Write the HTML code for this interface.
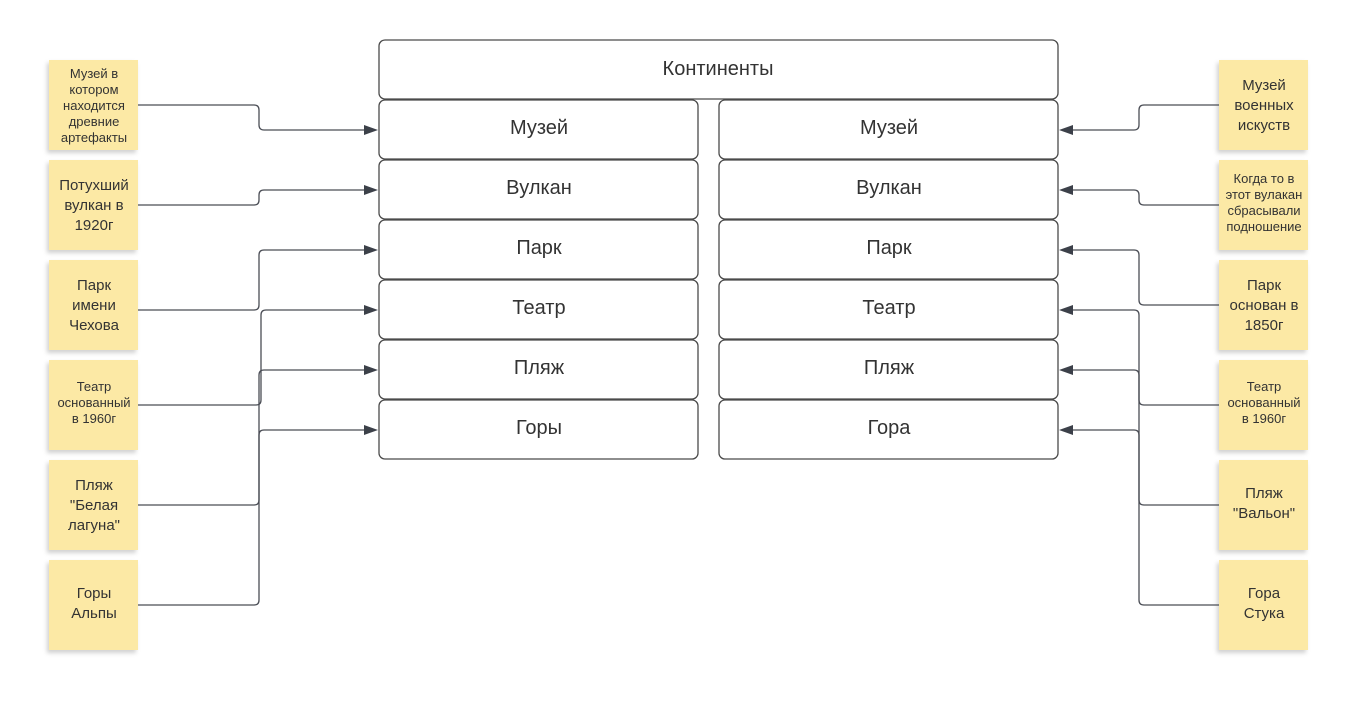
<!DOCTYPE html>
<html><head><meta charset="utf-8"><style>
body{margin:0;background:#fff;}
svg{display:block;font-family:"Liberation Sans",sans-serif;}
.b{fill:#fff;stroke:#4a4a4a;stroke-width:1.3}
.n{fill:#fce9a5}
.bt{font-size:20px;fill:#333;text-anchor:middle}
.s{font-size:15px;fill:#333;text-anchor:middle}
.ss{font-size:13px;fill:#333;text-anchor:middle}
.c{fill:none;stroke:#4a4d55;stroke-width:1.3}
.a{fill:#3c4049}
</style></head><body>
<svg width="1359" height="701" viewBox="0 0 1359 701">
<defs><filter id="sh" x="-20%" y="-20%" width="140%" height="140%"><feDropShadow dx="-2" dy="3" stdDeviation="2" flood-color="#000" flood-opacity="0.18"/></filter></defs>
<rect class="b" x="379" y="40" width="679" height="59" rx="6"/>
<text class="bt" x="718" y="75">Континенты</text>
<g>
<rect class="b" x="379" y="100" width="319" height="59" rx="6"/>
<rect class="b" x="379" y="160" width="319" height="59" rx="6"/>
<rect class="b" x="379" y="220" width="319" height="59" rx="6"/>
<rect class="b" x="379" y="280" width="319" height="59" rx="6"/>
<rect class="b" x="379" y="340" width="319" height="59" rx="6"/>
<rect class="b" x="379" y="400" width="319" height="59" rx="6"/>
<rect class="b" x="719" y="100" width="339" height="59" rx="6"/>
<rect class="b" x="719" y="160" width="339" height="59" rx="6"/>
<rect class="b" x="719" y="220" width="339" height="59" rx="6"/>
<rect class="b" x="719" y="280" width="339" height="59" rx="6"/>
<rect class="b" x="719" y="340" width="339" height="59" rx="6"/>
<rect class="b" x="719" y="400" width="339" height="59" rx="6"/>
</g>
<text class="bt" x="539" y="134">Музей</text>
<text class="bt" x="539" y="194">Вулкан</text>
<text class="bt" x="539" y="254">Парк</text>
<text class="bt" x="539" y="314">Театр</text>
<text class="bt" x="539" y="374">Пляж</text>
<text class="bt" x="539" y="434">Горы</text>
<text class="bt" x="889" y="134">Музей</text>
<text class="bt" x="889" y="194">Вулкан</text>
<text class="bt" x="889" y="254">Парк</text>
<text class="bt" x="889" y="314">Театр</text>
<text class="bt" x="889" y="374">Пляж</text>
<text class="bt" x="889" y="434">Гора</text>

<g filter="url(#sh)">
<rect class="n" x="49" y="60" width="89" height="90"/>
<rect class="n" x="49" y="160" width="89" height="90"/>
<rect class="n" x="49" y="260" width="89" height="90"/>
<rect class="n" x="49" y="360" width="89" height="90"/>
<rect class="n" x="49" y="460" width="89" height="90"/>
<rect class="n" x="49" y="560" width="89" height="90"/>
<rect class="n" x="1219" y="60" width="89" height="90"/>
<rect class="n" x="1219" y="160" width="89" height="90"/>
<rect class="n" x="1219" y="260" width="89" height="90"/>
<rect class="n" x="1219" y="360" width="89" height="90"/>
<rect class="n" x="1219" y="460" width="89" height="90"/>
<rect class="n" x="1219" y="560" width="89" height="90"/>
</g>
<text class="ss"><tspan x="94" y="78">Музей в</tspan><tspan x="94" y="94">котором</tspan><tspan x="94" y="110">находится</tspan><tspan x="94" y="126">древние</tspan><tspan x="94" y="142">артефакты</tspan></text>
<text class="s"><tspan x="94" y="190">Потухший</tspan><tspan x="94" y="210">вулкан в</tspan><tspan x="94" y="230">1920г</tspan></text>
<text class="s"><tspan x="94" y="290">Парк</tspan><tspan x="94" y="310">имени</tspan><tspan x="94" y="330">Чехова</tspan></text>
<text class="ss"><tspan x="94" y="391">Театр</tspan><tspan x="94" y="407">основанный</tspan><tspan x="94" y="423">в 1960г</tspan></text>
<text class="s"><tspan x="94" y="490">Пляж</tspan><tspan x="94" y="510">"Белая</tspan><tspan x="94" y="530">лагуна"</tspan></text>
<text class="s"><tspan x="94" y="598">Горы</tspan><tspan x="94" y="618">Альпы</tspan></text>
<text class="s"><tspan x="1264" y="90">Музей</tspan><tspan x="1264" y="110">военных</tspan><tspan x="1264" y="130">искуств</tspan></text>
<text class="ss"><tspan x="1264" y="183">Когда то в</tspan><tspan x="1264" y="199">этот вулакан</tspan><tspan x="1264" y="215">сбрасывали</tspan><tspan x="1264" y="231">подношение</tspan></text>
<text class="s"><tspan x="1264" y="290">Парк</tspan><tspan x="1264" y="310">основан в</tspan><tspan x="1264" y="330">1850г</tspan></text>
<text class="ss"><tspan x="1264" y="391">Театр</tspan><tspan x="1264" y="407">основанный</tspan><tspan x="1264" y="423">в 1960г</tspan></text>
<text class="s"><tspan x="1264" y="498">Пляж</tspan><tspan x="1264" y="518">"Вальон"</tspan></text>
<text class="s"><tspan x="1264" y="598">Гора</tspan><tspan x="1264" y="618">Стука</tspan></text>

<!-- left connectors -->
<path class="c" d="M138 105H254Q259 105 259 110V125Q259 130 264 130H368"/>
<path class="c" d="M138 205H254Q259 205 259 200V195Q259 190 264 190H368"/>
<path class="c" d="M138 310H254Q259 310 259 305V255Q259 250 264 250H368"/>
<path class="c" d="M138 405H256Q261 405 261 400V315Q261 310 266 310H368"/>
<path class="c" d="M138 505H254Q259 505 259 500V375Q259 370 264 370H368"/>
<path class="c" d="M138 605H254Q259 605 259 600V435Q259 430 264 430H368"/>
<g class="a">
<polygon points="378,130 364,125 364,135"/><polygon points="378,190 364,185 364,195"/>
<polygon points="378,250 364,245 364,255"/><polygon points="378,310 364,305 364,315"/>
<polygon points="378,370 364,365 364,375"/><polygon points="378,430 364,425 364,435"/>
</g>
<!-- right connectors -->
<path class="c" d="M1219 105H1144Q1139 105 1139 110V125Q1139 130 1134 130H1070"/>
<path class="c" d="M1219 205H1144Q1139 205 1139 200V195Q1139 190 1134 190H1070"/>
<path class="c" d="M1219 305H1144Q1139 305 1139 300V255Q1139 250 1134 250H1070"/>
<path class="c" d="M1219 405H1144Q1139 405 1139 400V315Q1139 310 1134 310H1070"/>
<path class="c" d="M1219 505H1144Q1139 505 1139 500V375Q1139 370 1134 370H1070"/>
<path class="c" d="M1219 605H1144Q1139 605 1139 600V435Q1139 430 1134 430H1070"/>
<g class="a">
<polygon points="1059,130 1073,125 1073,135"/><polygon points="1059,190 1073,185 1073,195"/>
<polygon points="1059,250 1073,245 1073,255"/><polygon points="1059,310 1073,305 1073,315"/>
<polygon points="1059,370 1073,365 1073,375"/><polygon points="1059,430 1073,425 1073,435"/>
</g>
</svg>
</body></html>
